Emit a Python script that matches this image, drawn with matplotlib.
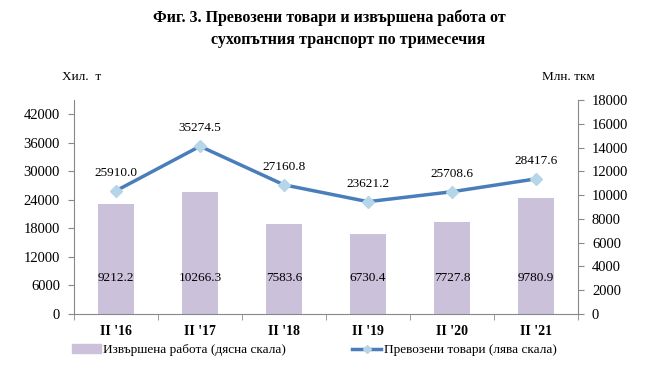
import numpy as np
import matplotlib.pyplot as plt

categories = ["II '16", "II '17", "II '18", "II '19", "II '20", "II '21"]
work = [9212.2, 10266.3, 7583.6, 6730.4, 7727.8, 9780.9]          # right scale, млн. ткм
goods = [25910.0, 35274.5, 27160.8, 23621.2, 25708.6, 28417.6]    # left scale, хил. т

plt.rcParams['font.family'] = ['Liberation Serif', 'DejaVu Serif']

fig = plt.figure(figsize=(6.45, 3.69), dpi=100)
ax = fig.add_axes([74/645, 55/369, 504/645, 214/369])
ax2 = ax.twinx()

x = np.arange(len(categories))

# bars on right axis
ax2.bar(x, work, width=0.43, color="#CCC1DA", zorder=1)
for xi, v in zip(x, work):
    ax2.text(xi, 3000, f"{v:.1f}", ha="center", va="center", fontsize=9.5)

# line on left axis, drawn above bars
ax.set_zorder(ax2.get_zorder() + 1)
ax.patch.set_visible(False)
ax.plot(x, goods, color="#4A7EBB", lw=2.5, marker="D", markersize=6,
        markerfacecolor="#B7D5E8", markeredgecolor="#B7D5E8", zorder=3)
for xi, v in zip(x, goods):
    ax.text(xi, v + 3800, f"{v:.1f}", ha="center", va="center", fontsize=9.5)

ax.set_xlim(-0.5, len(categories) - 0.5)
ax.set_ylim(0, 45000)
ax.set_yticks(np.arange(0, 42001, 6000))
ax2.set_ylim(0, 18000)
ax2.set_yticks(np.arange(0, 18001, 2000))

ax.set_xticks(x)
ax.set_xticklabels(categories, fontweight="bold", fontsize=10)
ax.set_xticks(np.arange(-0.5, len(categories), 1), minor=True)
ax.tick_params(axis="x", which="major", length=0, pad=8)
ax.tick_params(axis="x", which="minor", length=4, color="#888888")
ax.tick_params(axis="y", labelsize=10.5, length=4, color="#888888", pad=6)
ax2.tick_params(axis="y", labelsize=10.5, length=4, color="#888888", pad=6)

for a in (ax, ax2):
    a.spines["top"].set_visible(False)
    for s in ("left", "right", "bottom"):
        a.spines[s].set_color("#888888")
ax.spines["right"].set_visible(False)
ax2.spines["left"].set_visible(False)
ax2.spines["bottom"].set_visible(False)

fig.text(153/645, 1 - 18/369, "Фиг. 3. Превозени товари и извършена работа от",
         fontsize=11.5, fontweight="bold", ha="left", va="center")
fig.text(211/645, 1 - 40/369, "сухопътния транспорт по тримесечия",
         fontsize=11.5, fontweight="bold", ha="left", va="center")
fig.text(62/645, 1 - 77/369, "Хил.  т", fontsize=9.5, ha="left", va="center")
fig.text(595/645, 1 - 77/369, "Млн. ткм", fontsize=9.5, ha="right", va="center")

# legend
from matplotlib.patches import Patch
from matplotlib.lines import Line2D
handles = [Patch(color="#CCC1DA"),
           Line2D([], [], color="#4A7EBB", lw=2.5, marker="D", markersize=4,
                  markerfacecolor="#B7D5E8", markeredgecolor="#B7D5E8")]
labels = ["Извършена работа (дясна скала)", "Превозени товари (лява скала)"]
fig.legend(handles, labels, loc="center", bbox_to_anchor=(0.487, 1 - 350/369),
           ncol=2, frameon=False, fontsize=9.5, handlelength=2.2,
           handletextpad=0.2, columnspacing=5.0)

plt.savefig("out.png", dpi=100)
